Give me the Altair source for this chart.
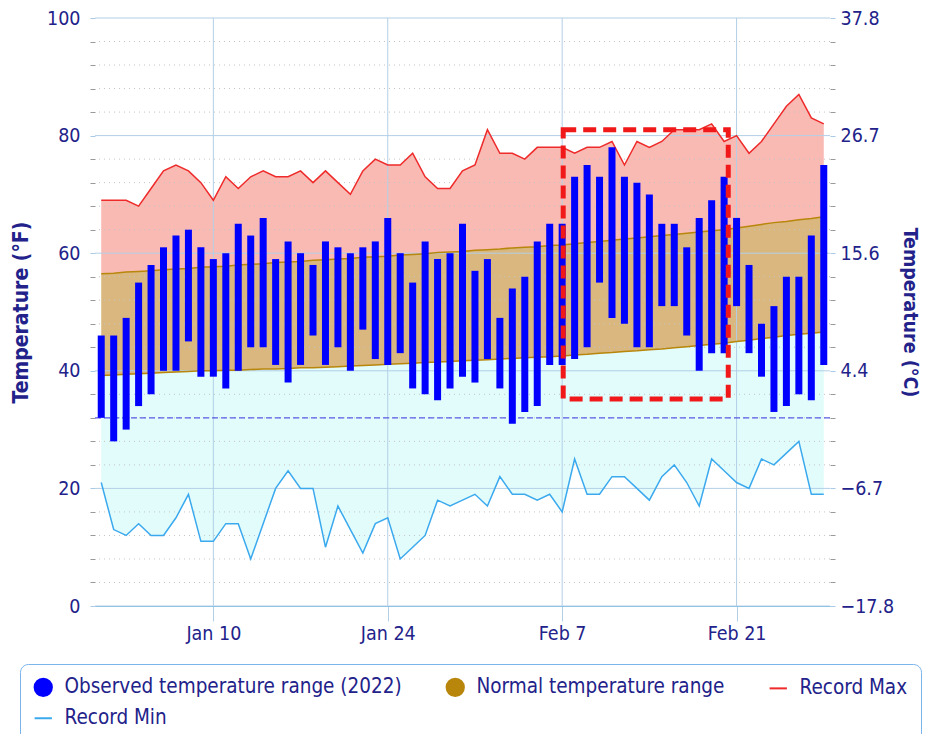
import altair as alt
import pandas as pd

# ---------------- data ----------------
dates = pd.date_range("2022-01-01", "2022-02-28", freq="D").strftime("%Y-%m-%d").tolist()

obs_high = [46, 46, 49, 55, 58, 61, 63, 64, 61, 59,
            60, 65, 63, 66, 59, 62, 60, 58, 62, 61,
            60, 61, 62, 66, 60, 55, 62, 59, 60, 65, 57,
            59, 49, 54, 56, 62, 65, 65, 73, 75, 73,
            78, 73, 72, 70, 65, 65, 61, 66, 69, 73,
            66, 58, 48, 51, 56, 56, 63, 75]
obs_low = [32, 28, 30, 34, 36, 40, 40, 45, 39, 39,
           37, 40, 44, 44, 41, 38, 41, 46, 41, 44,
           40, 47, 42, 41, 43, 37, 36, 35, 37, 39, 38,
           42, 37, 31, 33, 34, 41, 41, 42, 44, 55,
           49, 48, 44, 44, 51, 51, 46, 40, 43, 43,
           51, 43, 39, 33, 34, 36, 35, 41]
normal_high = [56.5, 56.6, 56.8, 56.9, 57.0, 57.2, 57.3, 57.4, 57.6, 57.7,
               57.8, 58.0, 58.1, 58.2, 58.4, 58.5, 58.6, 58.8, 58.9, 59.0,
               59.1, 59.3, 59.4, 59.5, 59.7, 59.8, 59.9, 60.1, 60.2, 60.3, 60.5,
               60.6, 60.7, 60.9, 61.0, 61.1, 61.3, 61.4, 61.6, 61.8, 62.0,
               62.2, 62.4, 62.6, 62.8, 63.0, 63.2, 63.4, 63.6, 63.8, 64.0,
               64.3, 64.6, 64.9, 65.2, 65.4, 65.7, 65.9, 66.2]
normal_low = [39.2, 39.3, 39.4, 39.5, 39.6, 39.7, 39.8, 39.9, 40.0, 40.0,
              40.1, 40.1, 40.2, 40.3, 40.3, 40.4, 40.5, 40.5, 40.6, 40.7,
              40.8, 40.9, 41.0, 41.1, 41.2, 41.3, 41.4, 41.5, 41.6, 41.7, 41.8,
              41.9, 42.0, 42.1, 42.2, 42.3, 42.4, 42.5, 42.7, 42.8, 43.0,
              43.1, 43.3, 43.4, 43.6, 43.7, 43.9, 44.1, 44.3, 44.5, 44.7,
              45.0, 45.2, 45.5, 45.7, 46.0, 46.2, 46.4, 46.6]
record_max = [69, 69, 69, 68, 71, 74, 75, 74, 72, 69,
              73, 71, 73, 74, 73, 73, 74, 72, 74, 72,
              70, 74, 76, 75, 75, 77, 73, 71, 71, 74, 75,
              81, 77, 77, 76, 78, 78, 78, 77, 78, 78,
              79, 75, 79, 78, 79, 81, 81, 81, 82, 79,
              80, 77, 79, 82, 85, 87, 83, 82]
record_min = [21, 13, 12, 14, 12, 12, 15, 19, 11, 11,
              14, 14, 8, 14, 20, 23, 20, 20, 10, 17,
              13, 9, 14, 15, 8, 10, 12, 18, 17, 18, 19,
              17, 22, 19, 19, 18, 19, 16, 25, 19, 19,
              22, 22, 20, 18, 22, 24, 21, 17, 25, 23,
              21, 20, 25, 24, 26, 28, 19, 19]

y_major = [0, 20, 40, 60, 80, 100]
y_minor = [v for v in range(0, 101, 4) if v % 20]
x_tick_dates = ["2022-01-10", "2022-01-24", "2022-02-07", "2022-02-21"]
freezing = [32]

box_start = ["2022-02-07T02:00:00Z"]
box_end = ["2022-02-20T08:00:00Z"]
box_top = [81.0]
box_bottom = [35.2]

series_names = ["Observed temperature range (2022)", "Normal temperature range",
                "Record Max", "Record Min"]
series_colors = ["#0000FF", "#B8860B", "#EE2A2A", "#3BA9EE"]
series_shapes = ["circle", "circle", "stroke", "stroke"]

# ---------------- styling ----------------
FONT = "DejaVu Sans Condensed, DejaVu Sans"
TXT = "#22228a"
GRID = "#b3cfe6"
PINK = "#F9BAB4"
TAN = "#D9B77E"
CYAN = "#E2FCFC"

df = pd.DataFrame({
    "date": dates, "hi": obs_high, "lo": obs_low,
    "nhi": normal_high, "nlo": normal_low,
    "rmax": record_max, "rmin": record_min,
})

xscale = alt.Scale(type="utc", padding=0, domain=[
    alt.DateTime(year=2021, month=12, date=31, hours=12, utc=True),
    alt.DateTime(year=2022, month=2, date=28, hours=12, utc=True)])

tick_dt = [alt.DateTime(year=int(s[:4]), month=int(s[5:7]), date=int(s[8:10]), utc=True)
           for s in x_tick_dates]

xaxis = alt.Axis(values=tick_dt, format="%b %-d", title=None, grid=False,
                 domain=True, domainColor="#6fb6e6", tickColor=GRID, tickSize=15,
                 labelPadding=3, labelFont=FONT, labelFontSize=19.5, labelColor=TXT,
                 labelOverlap=False)
X = alt.X("date:T", scale=xscale, axis=xaxis)

yscale = alt.Scale(domain=[0, 100], nice=False, zero=False)
tick_vals = list(range(0, 101, 4))
tick_col = {"condition": {"test": "datum.value % 20 === 0", "value": "#a9c9e4"},
            "value": "#999999"}

left_axis = alt.Axis(values=tick_vals,
                     labelExpr="datum.value % 20 === 0 ? datum.label : ''",
                     grid=False, domain=False, tickSize=5, tickColor=tick_col,
                     labelPadding=10, labelFont=FONT, labelFontSize=19.5, labelColor=TXT,
                     labelOverlap=False, title="Temperature (°F)", titleFont=FONT,
                     titleFontSize=21, titleFontWeight="bold", titleColor=TXT,
                     titlePadding=15)
right_axis = alt.Axis(orient="right", values=tick_vals,
                      labelExpr="datum.value % 20 === 0 ? format((datum.value - 32) * 5 / 9, '.1f') : ''",
                      grid=False, domain=False, tickSize=5, tickColor=tick_col,
                      labelPadding=5, labelFont=FONT, labelFontSize=19.5, labelColor=TXT,
                      labelOverlap=False, title="Temperature (°C)", titleFont=FONT,
                      titleFontSize=19.5, titleFontWeight="bold", titleColor=TXT,
                      titlePadding=6)

base = alt.Chart(df)

cyan = base.mark_area(color=CYAN).encode(
    x=X, y=alt.Y("rmin:Q", scale=yscale, axis=left_axis), y2="nlo:Q")
pink = base.mark_area(color=PINK).encode(
    x=X, y=alt.Y("nhi:Q", scale=yscale, axis=None), y2="rmax:Q")
tan = base.mark_area(color=TAN).encode(
    x=X, y=alt.Y("nlo:Q", scale=yscale, axis=None), y2="nhi:Q")

minor_grid = alt.Chart(pd.DataFrame({"v": y_minor})).mark_rule(
    color="#c4c4c4", strokeWidth=1, strokeDash=[1, 4]).encode(
    y=alt.Y("v:Q", scale=yscale, axis=None))
major_grid = alt.Chart(pd.DataFrame({"v": y_major})).mark_rule(
    color=GRID, strokeWidth=1).encode(
    y=alt.Y("v:Q", scale=yscale, axis=None))
vert_grid = alt.Chart(pd.DataFrame({"date": x_tick_dates})).mark_rule(
    color=GRID, strokeWidth=1).encode(x=X)

nhi_line = base.mark_line(color="#B8860B", strokeWidth=1.5).encode(
    x=X, y=alt.Y("nhi:Q", scale=yscale, axis=None))
nlo_line = base.mark_line(color="#B8860B", strokeWidth=1.5).encode(
    x=X, y=alt.Y("nlo:Q", scale=yscale, axis=None))
rmax_line = base.mark_line(color="#EE2A2A", strokeWidth=1.5).encode(
    x=X, y=alt.Y("rmax:Q", scale=yscale, axis=right_axis))
rmin_line = base.mark_line(color="#3BA9EE", strokeWidth=1.5).encode(
    x=X, y=alt.Y("rmin:Q", scale=yscale, axis=None))

freeze = alt.Chart(pd.DataFrame({"v": freezing})).mark_rule(
    color="#5a5ae6", strokeWidth=1.2, strokeDash=[6, 3]).encode(
    y=alt.Y("v:Q", scale=yscale, axis=None))

bars = base.mark_bar(color="#0000FF", size=7).encode(
    x=X, y=alt.Y("lo:Q", scale=yscale, axis=None), y2="hi:Q")

box = alt.Chart(pd.DataFrame({"date": box_start, "date_end": box_end,
                              "top": box_top, "bottom": box_bottom})).mark_rect(
    fillOpacity=0, stroke="#F01818", strokeWidth=5, strokeDash=[13, 7]).encode(
    x=X, x2="date_end:T", y=alt.Y("top:Q", scale=yscale, axis=None), y2="bottom:Q")

leg = alt.Legend(title=None, orient="none", legendX=-75, legendY=646, columns=3,
                 direction="horizontal",
                 symbolSize=300, symbolStrokeWidth=2, symbolOpacity=1,
                 labelFont=FONT, labelFontSize=20.5, labelColor=TXT, labelOffset=11,
                 labelLimit=0, columnPadding=40, rowPadding=8, padding=13,
                 strokeColor="#7cb5ec", cornerRadius=8, fillColor="white")

legend_df = pd.DataFrame({"series": series_names,
                          "date": ["2021-06-01"] * 4,
                          "v": [None] * 4})
legend_layer = alt.Chart(legend_df).mark_point(filled=True, opacity=1, clip=True).encode(
    x=X, y=alt.Y("v:Q", scale=yscale, axis=None),
    fill=alt.Fill("series:N", scale=alt.Scale(domain=series_names, range=series_colors),
                  sort=series_names, legend=leg),
    stroke=alt.Stroke("series:N", scale=alt.Scale(domain=series_names, range=series_colors),
                      sort=series_names, legend=leg),
    shape=alt.Shape("series:N", scale=alt.Scale(domain=series_names, range=series_shapes),
                    sort=series_names, legend=leg),
)

chart = alt.layer(
    cyan, pink, tan, minor_grid, major_grid, vert_grid,
    nhi_line, nlo_line, rmin_line, rmax_line, freeze, bars, box, legend_layer
).resolve_axis(y="independent").properties(
    width=735, height=588,
    padding={"left": 87, "top": 10, "right": 95, "bottom": 128},
    autosize=alt.AutoSizeParams(type="none"),
).configure_view(stroke=None)

chart.save("out.html", embed_options={"renderer": "svg", "actions": False})
